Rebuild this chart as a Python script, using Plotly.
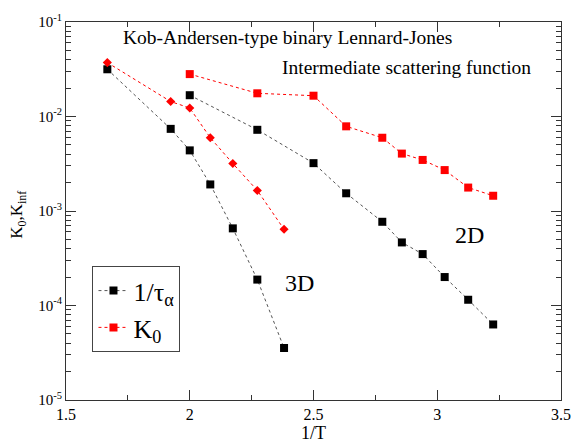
import plotly.graph_objects as go

# inverse temperature points
inv_T_3d = [1.667, 1.923, 2.0, 2.083, 2.174, 2.273, 2.381]
inv_T_2d = [2.0, 2.273, 2.5, 2.632, 2.778, 2.857, 2.941, 3.030, 3.125, 3.226]

# 3D system
tau_inv_3d = [0.0316, 0.0074, 0.00438, 0.00191, 0.000655, 0.000188, 3.55e-5]
k0_3d = [0.0372, 0.0144, 0.0123, 0.00596, 0.00318, 0.00165, 0.00064]

# 2D system
tau_inv_2d = [0.0168, 0.00723, 0.00321, 0.00154, 0.000769, 0.000465,
              0.00035, 0.0002, 0.000115, 6.3e-5]
k0_2d = [0.0281, 0.0176, 0.0166, 0.00787, 0.00596, 0.00405,
         0.00347, 0.00271, 0.00177, 0.00145]

y_tick_vals = [1e-5, 1e-4, 1e-3, 1e-2, 1e-1]
y_tick_text = ["10<sup>-5</sup>", "10<sup>-4</sup>", "10<sup>-3</sup>",
               "10<sup>-2</sup>", "10<sup>-1</sup>"]
x_tick_vals = [1.5, 2.0, 2.5, 3.0, 3.5]
x_tick_text = ["1.5", "2", "2.5", "3", "3.5"]

SERIF = "Liberation Serif, Times New Roman, serif"
BLACK = "#000000"
RED = "#ff0000"
AXIS = "#333333"

fig = go.Figure()

fig.add_trace(go.Scatter(
    x=inv_T_3d, y=tau_inv_3d, mode="lines+markers", showlegend=False,
    line=dict(color="#555555", width=1, dash="dot"),
    marker=dict(symbol="square", size=8, color=BLACK),
))
fig.add_trace(go.Scatter(
    x=inv_T_2d, y=tau_inv_2d, mode="lines+markers", name="1/τ<sub>α</sub>",
    line=dict(color="#555555", width=1, dash="dot"),
    marker=dict(symbol="square", size=8, color=BLACK),
))
fig.add_trace(go.Scatter(
    x=inv_T_3d, y=k0_3d, mode="lines+markers", showlegend=False,
    line=dict(color=RED, width=1, dash="dot"),
    marker=dict(symbol="diamond", size=7, color=RED),
))
fig.add_trace(go.Scatter(
    x=inv_T_2d, y=k0_2d, mode="lines+markers", name="K<sub>0</sub>",
    line=dict(color=RED, width=1, dash="dot"),
    marker=dict(symbol="square", size=8, color=RED),
))

# minor tick positions for the log axis (2..9 in every decade)
minor_y = [m * 10 ** e for e in range(-5, -1) for m in range(2, 10)]

axis_common = dict(
    showline=True, linecolor=AXIS, linewidth=1, mirror="ticks",
    ticks="inside", ticklen=10, tickwidth=1, tickcolor=AXIS,
    showgrid=False, zeroline=False,
)

fig.update_layout(
    width=583, height=448,
    margin=dict(l=66, r=12, t=15, b=35),
    paper_bgcolor="white", plot_bgcolor="white",
    font=dict(family=SERIF, color=BLACK),
    xaxis=dict(
        range=[1.5, 3.5], tickmode="array", tickvals=x_tick_vals, ticktext=x_tick_text,
        minor=dict(ticks="inside", ticklen=5, tickcolor=AXIS, dtick=0.25, tick0=1.5),
        tickfont=dict(family=SERIF, size=16, color=BLACK),
        title=dict(text="1/T", font=dict(family=SERIF, size=18, color=BLACK), standoff=0),
        **axis_common,
    ),
    yaxis=dict(
        type="log", range=[-5, -1], tickmode="array", tickvals=y_tick_vals,
        ticktext=y_tick_text,
        minor=dict(ticks="inside", ticklen=5, tickcolor=AXIS, tickvals=minor_y),
        tickfont=dict(family=SERIF, size=15, color=BLACK),
        **axis_common,
    ),
    legend=dict(
        x=0.0535, y=0.354, xanchor="left", yanchor="top",
        xref="paper", yref="paper",
        bgcolor="white", bordercolor="#444444", borderwidth=1,
        font=dict(family=SERIF, size=26, color=BLACK),
        itemwidth=30, tracegroupgap=0,
    ),
    annotations=[
        # vertical axis title, placed further out than the automatic position
        dict(text="K<sub>0</sub>,K<sub>inf</sub>", x=-0.097, y=0.49,
             xref="paper", yref="paper", showarrow=False, textangle=-90,
             xanchor="center", yanchor="middle",
             font=dict(family=SERIF, size=17, color=BLACK)),
        dict(text="Kob-Andersen-type binary Lennard-Jones", x=2.395, y=-1.165,
             xref="x", yref="y", showarrow=False, xanchor="center",
             font=dict(family=SERIF, size=19.5, color=BLACK)),
        dict(text="Intermediate scattering function", x=2.874, y=-1.483,
             xref="x", yref="y", showarrow=False, xanchor="center",
             font=dict(family=SERIF, size=19.5, color=BLACK)),
        dict(text="2D", x=3.132, y=-3.252, xref="x", yref="y", showarrow=False,
             font=dict(family=SERIF, size=24, color=BLACK)),
        dict(text="3D", x=2.442, y=-3.765, xref="x", yref="y", showarrow=False,
             font=dict(family=SERIF, size=24, color=BLACK)),
    ],
)

fig.write_html("out.html")
